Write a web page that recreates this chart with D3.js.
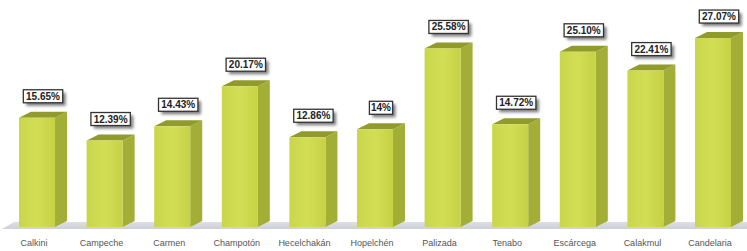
<!DOCTYPE html>
<html>
<head>
<meta charset="utf-8">
<script src="https://cdn.jsdelivr.net/npm/d3@7"></script>
<style>
  html, body { margin: 0; padding: 0; background: #fff; }
  svg { display: block; }
</style>
</head>
<body>
<div id="chart"></div>
<script>
// municipios y porcentajes
var categories = ["Calkini", "Campeche", "Carmen", "Champotón", "Hecelchakán", "Hopelchén",
  "Palizada", "Tenabo", "Escárcega", "Calakmul", "Candelaria"];
var values = [15.65, 12.39, 14.43, 20.17, 12.86, 14, 25.58, 14.72, 25.10, 22.41, 27.07];
var valueLabels = ["15.65%", "12.39%", "14.43%", "20.17%", "12.86%", "14%",
  "25.58%", "14.72%", "25.10%", "22.41%", "27.07%"];

var w = 747, h = 251;
var dx = 12, dy = 6; // profundidad 3D

var svg = d3.select("#chart").append("svg").attr("width", w).attr("height", h);

var x = d3.scaleBand().domain(categories).range([19, 731]).paddingInner(0.467).paddingOuter(0);
var y = d3.scaleLinear().domain([0, 30]).range([227, 17.6]);

var defs = svg.append("defs");
var grad = defs.append("linearGradient").attr("id", "front").attr("x1", 0).attr("x2", 1).attr("y1", 0).attr("y2", 0);
grad.append("stop").attr("offset", "0%").attr("stop-color", "#c9d64a");
grad.append("stop").attr("offset", "50%").attr("stop-color", "#d3de55");
grad.append("stop").attr("offset", "100%").attr("stop-color", "#c6d244");

var floorGrad = defs.append("linearGradient").attr("id", "floor").attr("x1", 0).attr("x2", 0).attr("y1", 0).attr("y2", 1);
floorGrad.append("stop").attr("offset", "0%").attr("stop-color", "#dedee6");
floorGrad.append("stop").attr("offset", "100%").attr("stop-color", "#cfcfd8");

var blur = defs.append("filter").attr("id", "shadow").attr("x", "-30%").attr("y", "-30%").attr("width", "160%").attr("height", "160%");
blur.append("feGaussianBlur").attr("stdDeviation", 1.6);

/** El piso */
var y0 = y(0);
svg.append("polygon")
  .attr("points", [[2, y0 + 2], [2 + dx, y0 - dy + 1], [w, y0 - dy + 1], [w, y0 + 2]].join(" "))
  .attr("fill", "url(#floor)");

var bw = x.bandwidth();
var bars = svg.selectAll("g.bar").data(categories).enter().append("g").attr("class", "bar");

// cara lateral
bars.append("polygon")
  .attr("points", function (d, i) {
    var x1 = x(d) + bw, yt = y(values[i]);
    return [[x1, yt], [x1 + dx, yt - dy], [x1 + dx, y0 - dy], [x1, y0]].join(" ");
  })
  .attr("fill", "#a3ae37");

// cara superior
bars.append("polygon")
  .attr("points", function (d, i) {
    var x0 = x(d), yt = y(values[i]);
    return [[x0, yt], [x0 + dx, yt - dy], [x0 + bw + dx, yt - dy], [x0 + bw, yt]].join(" ");
  })
  .attr("fill", "#909b2c");

// cara frontal
bars.append("rect")
  .attr("x", function (d) { return x(d); })
  .attr("y", function (d, i) { return y(values[i]); })
  .attr("width", bw)
  .attr("height", function (d, i) { return y0 - y(values[i]); })
  .attr("fill", "url(#front)");

// etiquetas de valor
var lbl = bars.append("g")
  .attr("transform", function (d, i) {
    return "translate(" + (x(d) + bw / 2 + dx / 2) + "," + (y(values[i]) - dy - 22) + ")";
  });
lbl.each(function (d, i) {
  var g = d3.select(this);
  var t = valueLabels[i];
  var tw = t.length * 5.4 + 7;
  g.append("rect").attr("x", -tw / 2 + 3).attr("y", 3).attr("width", tw).attr("height", 13)
    .attr("fill", "#666").attr("opacity", 0.85).attr("filter", "url(#shadow)");
  g.append("rect").attr("x", -tw / 2).attr("y", 0).attr("width", tw).attr("height", 13)
    .attr("fill", "#fff").attr("stroke", "#333").attr("stroke-width", 1.3);
  g.append("text").attr("x", 0).attr("y", 10).attr("text-anchor", "middle")
    .attr("font-family", "Liberation Sans Narrow, Liberation Sans, Arial, sans-serif").attr("font-weight", "bold")
    .attr("font-size", "10px").attr("fill", "#222").text(t);
});

// etiquetas de categoría
svg.selectAll("text.cat").data(categories).enter().append("text")
  .attr("class", "cat")
  .attr("x", function (d) { return x(d) + bw / 2 - 3; })
  .attr("y", 246)
  .attr("text-anchor", "middle")
  .attr("font-family", "Liberation Sans, Arial, sans-serif")
  .attr("font-size", "9px")
  .attr("fill", "#555")
  .text(function (d) { return d; });
</script>
</body>
</html>
